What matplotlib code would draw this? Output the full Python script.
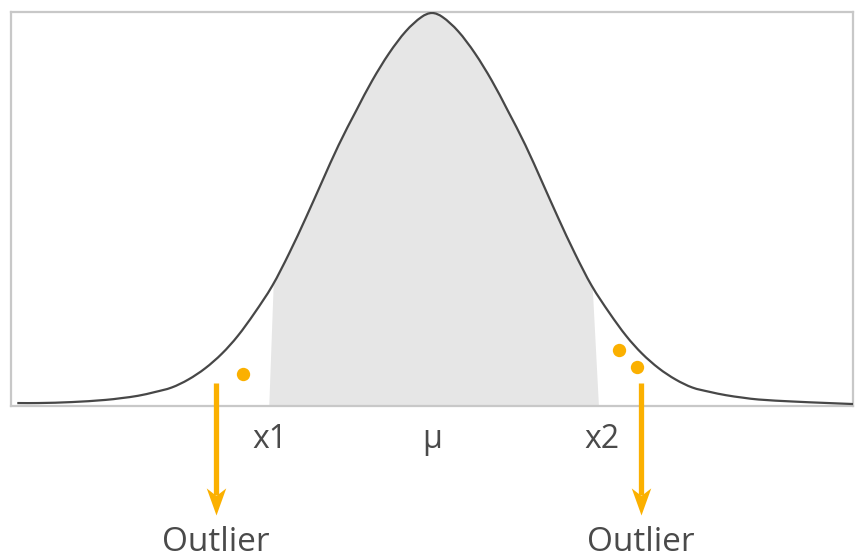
import numpy as np
import matplotlib
matplotlib.use("Agg")
import matplotlib.pyplot as plt
from matplotlib.path import Path
from matplotlib.patches import PathPatch

# Curve (x in sigma units, y as density)
curve_x = [-3.95, -3.75, -3.43, -3.11, -2.96, -2.80, -2.64, -2.48, -2.32, -2.16, -2.00, -1.85,
           -1.69, -1.52, -1.36, -1.20, -1.05, -0.89, -0.72, -0.57, -0.41, -0.25,
           -0.10, 0.00,
           0.10, 0.25, 0.41, 0.57, 0.72, 0.89, 1.05, 1.20, 1.36, 1.52,
           1.69, 1.85, 2.00, 2.16, 2.32, 2.48, 2.64, 2.80, 2.96, 3.11, 3.43, 3.75, 4.01]
curve_y = [0.0030, 0.0030, 0.0040, 0.0062, 0.0080, 0.0104, 0.0142, 0.0188, 0.0270, 0.0384, 0.0534, 0.0713,
           0.0947, 0.1226, 0.1555, 0.1919, 0.2277, 0.2654, 0.3010, 0.3311, 0.3588, 0.3813,
           0.3959, 0.4000,
           0.3959, 0.3813, 0.3588, 0.3311, 0.3010, 0.2654, 0.2277, 0.1919, 0.1555, 0.1226,
           0.0947, 0.0713, 0.0534, 0.0384, 0.0270, 0.0188, 0.0145, 0.0110, 0.0085, 0.0066, 0.0046, 0.0031, 0.0020]

# shaded band bounds
shade_bottom = [-1.55, 1.59]
shade_top = [-1.50, 1.52]

# outlier points
outlier_x = [-1.80, 1.78, 1.95]
outlier_y = [0.0326, 0.0570, 0.0397]

# arrows and labels
arrow_x = [-2.06, 1.99]
arrow_start_y = 0.0234
arrow_tip_y = -0.111
outlier_label_y = -0.139
outlier_label = "Outlier"

tick_pos = [-1.54, 0.0, 1.62]
tick_labels = ["x1", "μ", "x2"]

ORANGE = "#FBB000"
DARK = "#474747"
TEXT = "#4a4a4a"
FRAME = "#c8c8c8"
SHADE = "#e6e6e6"

plt.rcParams['font.family'] = ['Open Sans', 'DejaVu Sans']

fig = plt.figure(figsize=(8.6, 5.56), dpi=100)
ax = fig.add_axes([11/860, 1 - 406/556, 842/860, 394/556])
ax.set_xlim(-4.01, 4.01)
ax.set_ylim(0, 0.401)

cx = np.array(curve_x)
cy = np.array(curve_y)


def smooth_path(x, y):
    """Cubic Hermite spline (finite-difference slopes) through the points, as Bezier segments."""
    n = len(x)
    m = np.empty(n)
    m[0] = (y[1] - y[0]) / (x[1] - x[0])
    m[-1] = (y[-1] - y[-2]) / (x[-1] - x[-2])
    m[1:-1] = (y[2:] - y[:-2]) / (x[2:] - x[:-2])
    verts = [(x[0], y[0])]
    codes = [Path.MOVETO]
    for i in range(n - 1):
        h = x[i + 1] - x[i]
        verts += [(x[i] + h / 3, y[i] + m[i] * h / 3),
                  (x[i + 1] - h / 3, y[i + 1] - m[i + 1] * h / 3),
                  (x[i + 1], y[i + 1])]
        codes += [Path.CURVE4] * 3
    return Path(np.array(verts), codes)


curve_path = smooth_path(cx, cy)

# shaded area: band between bounds, clipped to the region under the curve
top_x = np.r_[shade_top[0], cx[(cx > shade_top[0]) & (cx < shade_top[1])], shade_top[1]]
top_y = np.interp(top_x, cx, cy) + 0.02
shade = ax.fill(np.r_[shade_bottom[0], top_x, shade_bottom[1]],
                np.r_[0, top_y, 0], color=SHADE, lw=0, zorder=1)[0]
under = np.vstack([curve_path.vertices, [cx[-1], 0], [cx[0], 0], [cx[0], 0]])
under_codes = list(curve_path.codes) + [Path.LINETO, Path.LINETO, Path.CLOSEPOLY]
shade.set_clip_path(PathPatch(Path(under, under_codes), transform=ax.transData))

ax.add_patch(PathPatch(curve_path, facecolor='none', edgecolor=DARK, lw=1.6,
                       zorder=3, joinstyle='round'))

ax.plot(outlier_x, outlier_y, 'o', color=ORANGE, ms=9.6, mec='none', zorder=4)

# arrows
head = Path([(0, 0), (-0.36, 1.0), (0, 0.72), (0.36, 1.0), (0, 0)],
            [Path.MOVETO, Path.LINETO, Path.LINETO, Path.LINETO, Path.CLOSEPOLY])
for axx in arrow_x:
    ax.plot([axx, axx], [arrow_start_y, arrow_tip_y + 0.02], color=ORANGE, lw=3.8,
            solid_capstyle='butt', clip_on=False, zorder=4)
    ax.plot([axx], [arrow_tip_y], marker=head, ms=39, color=ORANGE, mec='none',
            clip_on=False, zorder=5)
    ax.text(axx, outlier_label_y, outlier_label, ha='center', va='center',
            fontsize=24, color=TEXT, clip_on=False)

ax.set_xticks(tick_pos)
ax.set_xticklabels(tick_labels)
ax.tick_params(axis='x', length=0, pad=12, labelsize=23, labelcolor=TEXT)
ax.set_yticks([])

for s in ax.spines.values():
    s.set_color(FRAME)
    s.set_linewidth(1.6)
    s.set_zorder(2)

fig.savefig("out.png", dpi=100, facecolor='white')
